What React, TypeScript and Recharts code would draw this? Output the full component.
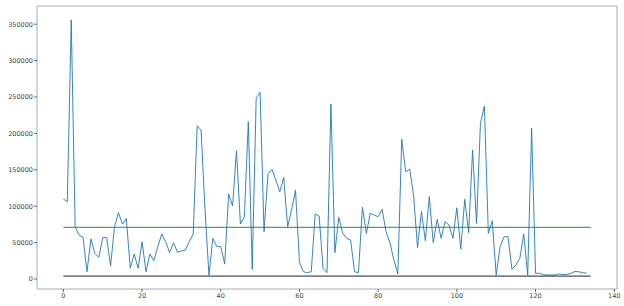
import React from "react";
import { LineChart, Line, XAxis, YAxis, ReferenceLine, ReferenceArea } from "recharts";

const values: number[] = [
  110000, 106000, 356000, 71500, 60400, 57300, 10000, 55000, 35300, 29800,
  56700, 57000, 17900, 71800, 91100, 75500, 83300, 14700, 34300, 14700,
  51200, 10000, 34300, 25200, 44400, 61800, 51200, 36200, 49900, 36700,
  38500, 39800, 51200, 61800, 210200, 204700, 95000, 5500, 55900, 44500,
  44400, 20600, 116800, 100300, 176200, 75500, 85600, 216100, 13300, 248200,
  256400, 65000, 144200, 150700, 136000, 119900, 139700, 71800, 94800, 121800,
  22500, 10000, 8700, 10000, 89300, 86500, 14700, 8700, 240400, 36200,
  84700, 62700, 55900, 53600, 10000, 8700, 98500, 62700, 90200, 87900,
  85600, 95700, 65000, 49900, 26100, 6900, 191900, 147400, 150700, 115400,
  43500, 92500, 52700, 113100, 49900, 82000, 55900, 78700, 74200, 55900,
  97800, 41000, 109500, 63600, 177200, 76500, 213900, 237600, 62700, 80100,
  5500, 44400, 58100, 58100, 13300, 19200, 28400, 61800, 5500, 207000,
  7800, 7800, 5900, 5500, 5500, 5500, 7000, 5900, 6300, 7800,
  10400, 9900, 8500, 8100,
];

const upperLevel = 71000;
const lowerLevel = 4000;
const levelStart = 0;
const levelEnd = 134;

const xTicks = [0, 20, 40, 60, 80, 100, 120, 140];
const yTicks = [0, 50000, 100000, 150000, 200000, 250000, 300000, 350000];
const xDomain: [number, number] = [-6.7, 140.7];
const yDomain: [number, number] = [-13736, 375000];

const data = values.map((v, i) => ({ x: i, v }));

const tickStyle = { fontSize: 6.5, fill: "#444", fontFamily: "DejaVu Sans" };

export default function App() {
  return (
    <div style={{ position: "absolute", left: 0, top: 0, width: 624, height: 306, background: "#fff" }}>
      <LineChart width={624} height={306} data={data} margin={{ top: 6, right: 7, bottom: 0, left: 0 }}>
        <XAxis
          dataKey="x"
          type="number"
          domain={xDomain}
          ticks={xTicks}
          allowDataOverflow
          height={17}
          tick={tickStyle}
          tickSize={3}
          tickMargin={1}
          axisLine={false}
          tickLine={{ stroke: "#666" }}
        />
        <YAxis
          type="number"
          domain={yDomain}
          ticks={yTicks}
          allowDataOverflow
          width={37}
          tick={tickStyle}
          tickSize={3}
          tickMargin={1}
          axisLine={false}
          tickLine={{ stroke: "#666" }}
        />
        <ReferenceArea
          x1={xDomain[0]}
          x2={xDomain[1]}
          y1={yDomain[0]}
          y2={yDomain[1]}
          fill="none"
          stroke="#aaa"
          strokeWidth={1}
          ifOverflow="visible"
        />
        <Line
          dataKey="v"
          type="linear"
          stroke="#1f77b4"
          strokeWidth={0.9}
          dot={false}
          isAnimationActive={false}
        />
        <ReferenceLine
          segment={[{ x: levelStart, y: upperLevel }, { x: levelEnd, y: upperLevel }]}
          stroke="#2e8b2e"
          strokeWidth={1}
        />
        <ReferenceLine
          segment={[{ x: levelStart, y: lowerLevel }, { x: levelEnd, y: lowerLevel }]}
          stroke="#222"
          strokeWidth={1}
        />
      </LineChart>
    </div>
  );
}
